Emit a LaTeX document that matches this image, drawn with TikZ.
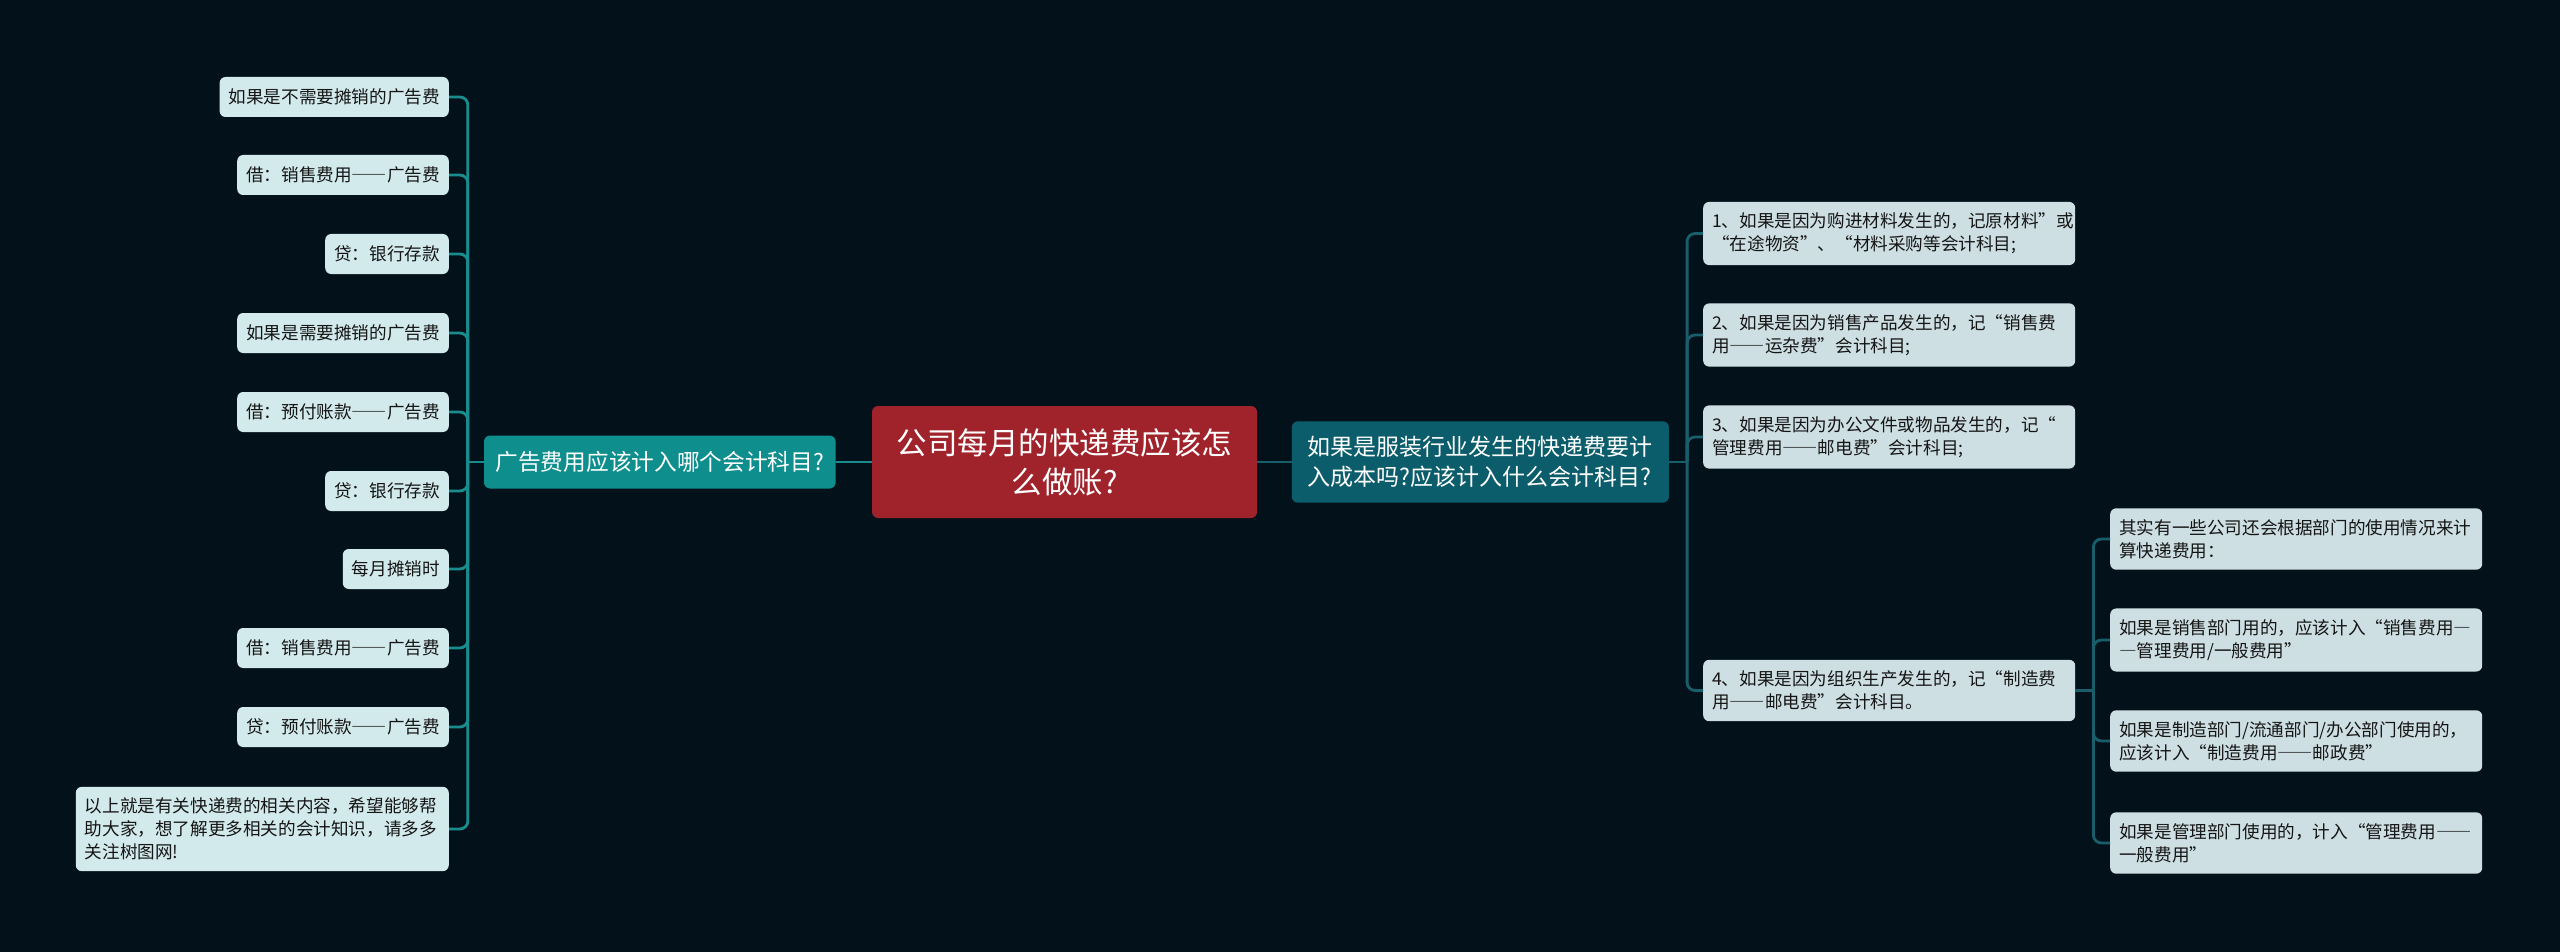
\documentclass[tikz,border=0pt]{standalone}
\usepackage{fontspec}
\usepackage{xcolor}
\usepackage{tikz}
\usetikzlibrary{positioning}
\setmainfont{Noto Sans CJK SC}
\newcommand{\fwdash}[1]{{\addfontfeatures{RawFeature=+fwid}#1}}

\definecolor{bgdark}{HTML}{03121A}
\definecolor{rootred}{HTML}{A0232B}
\definecolor{tealL}{HTML}{0F8E8E}
\definecolor{tealR}{HTML}{0C5D6C}
\definecolor{leafL}{HTML}{D3EAEC}
\definecolor{leafR}{HTML}{CEDFE3}
\definecolor{wireL}{HTML}{198D8E}
\definecolor{wireR}{HTML}{185E6B}
\definecolor{inkdark}{HTML}{151515}

\begin{document}
\begin{tikzpicture}[x=1pt, y=-1pt,
  rootbox/.style={rectangle, rounded corners=6pt, fill=rootred, text=white,
              minimum width=385pt, minimum height=112pt, align=center,
              font=\fontsize{30.5}{39}\selectfont},
  topicL/.style={rectangle, rounded corners=6pt, fill=tealL, text=white,
              inner xsep=11.5pt, minimum height=53pt, font=\fontsize{22.7}{30}\selectfont},
  topicR/.style={rectangle, rounded corners=6pt, fill=tealR, text=white,
              inner xsep=16pt, inner ysep=15pt, text width=345pt, align=left,
              font=\fontsize{23}{30}\selectfont},
  leafl/.style={rectangle, rounded corners=6pt, fill=leafL, text=inkdark, anchor=east,
              inner xsep=9pt, inner ysep=11pt, minimum height=40pt,
              font=\fontsize{17.6}{23}\selectfont},
  leafr/.style={rectangle, rounded corners=6pt, fill=leafR, text=inkdark, anchor=west,
              inner xsep=9pt, inner ysep=11pt, text width=354pt, align=left,
              font=\fontsize{17.6}{23}\selectfont},
  lnkL/.style={line width=2.8pt, draw=wireL, rounded corners=8pt},
  lnkR/.style={line width=2.8pt, draw=wireR, rounded corners=8pt}
]
  \fill[bgdark] (0,0) rectangle (2560,952);

  \node[rootbox] (root) at (1064.5,462) {公司每月的快递费应该怎\\么做账?};
  \node[topicL, left=36pt of root] (L) {广告费用应该计入哪个会计科目?};
  \node[topicR, right=34.5pt of root] (R) {如果是服装行业发生的快递费要计\\入成本吗?应该计入什么会计科目?};

  \draw[lnkL] (root.west) -- (L.east);
  \draw[lnkR] (root.east) -- (R.west);

  % left branch
  \node[leafl] (a1) at (449,97) {如果是不需要摊销的广告费};
  \node[leafl] (a2) at (449,175) {借：销售费用\fwdash{——}广告费};
  \node[leafl] (a3) at (449,254) {贷：银行存款};
  \node[leafl] (a4) at (449,333) {如果是需要摊销的广告费};
  \node[leafl] (a5) at (449,412) {借：预付账款\fwdash{——}广告费};
  \node[leafl] (a6) at (449,491) {贷：银行存款};
  \node[leafl] (a7) at (449,569) {每月摊销时};
  \node[leafl] (a8) at (449,648) {借：销售费用\fwdash{——}广告费};
  \node[leafl] (a9) at (449,727) {贷：预付账款\fwdash{——}广告费};
  \node[leafl, text width=355pt, align=left] (a10) at (449,829)
    {以上就是有关快递费的相关内容，希望能够帮\\助大家，想了解更多相关的会计知识，请多多\\关注树图网!};

  \coordinate[left=16pt of L.west] (Ltrunk);
  \draw[lnkL] (L.west) -- (Ltrunk);
  \draw[lnkL] (Ltrunk) |- (a1.east); \draw[lnkL] (Ltrunk) |- (a2.east);
  \draw[lnkL] (Ltrunk) |- (a3.east); \draw[lnkL] (Ltrunk) |- (a4.east);
  \draw[lnkL] (Ltrunk) |- (a5.east); \draw[lnkL] (Ltrunk) |- (a6.east);
  \draw[lnkL] (Ltrunk) |- (a7.east); \draw[lnkL] (Ltrunk) |- (a8.east);
  \draw[lnkL] (Ltrunk) |- (a9.east); \draw[lnkL] (Ltrunk) |- (a10.east);

  % right branch
  \node[leafr] (r1) at (1703,233.5) {1、如果是因为购进材料发生的，记原材料”或\\“在途物资”、“材料采购等会计科目;};
  \node[leafr] (r2) at (1703,335) {2、如果是因为销售产品发生的，记“销售费\\用\fwdash{——}运杂费”会计科目;};
  \node[leafr] (r3) at (1703,437) {3、如果是因为办公文件或物品发生的，记“\\管理费用\fwdash{——}邮电费”会计科目;};
  \node[leafr] (r4) at (1703,690.5) {4、如果是因为组织生产发生的，记“制造费\\用\fwdash{——}邮电费”会计科目。};

  \coordinate[right=18pt of R.east] (Rtrunk);
  \draw[lnkR] (R.east) -- (Rtrunk);
  \draw[lnkR] (Rtrunk) |- (r1.west); \draw[lnkR] (Rtrunk) |- (r2.west);
  \draw[lnkR] (Rtrunk) |- (r3.west); \draw[lnkR] (Rtrunk) |- (r4.west);

  \node[leafr] (c1) at (2110,539) {其实有一些公司还会根据部门的使用情况来计\\算快递费用：};
  \node[leafr] (c2) at (2110,640) {如果是销售部门用的，应该计入“销售费用\fwdash{—}\\\fwdash{—}管理费用/一般费用”};
  \node[leafr] (c3) at (2110,741) {如果是制造部门/流通部门/办公部门使用的，\\应该计入“制造费用\fwdash{——}邮政费”};
  \node[leafr] (c4) at (2110,843) {如果是管理部门使用的，计入“管理费用\fwdash{——}\\一般费用”};

  \coordinate[right=18pt of r4.east] (r4trunk);
  \draw[lnkR] (r4.east) -- (r4trunk);
  \draw[lnkR] (r4trunk) |- (c1.west); \draw[lnkR] (r4trunk) |- (c2.west);
  \draw[lnkR] (r4trunk) |- (c3.west); \draw[lnkR] (r4trunk) |- (c4.west);
\end{tikzpicture}
\end{document}
